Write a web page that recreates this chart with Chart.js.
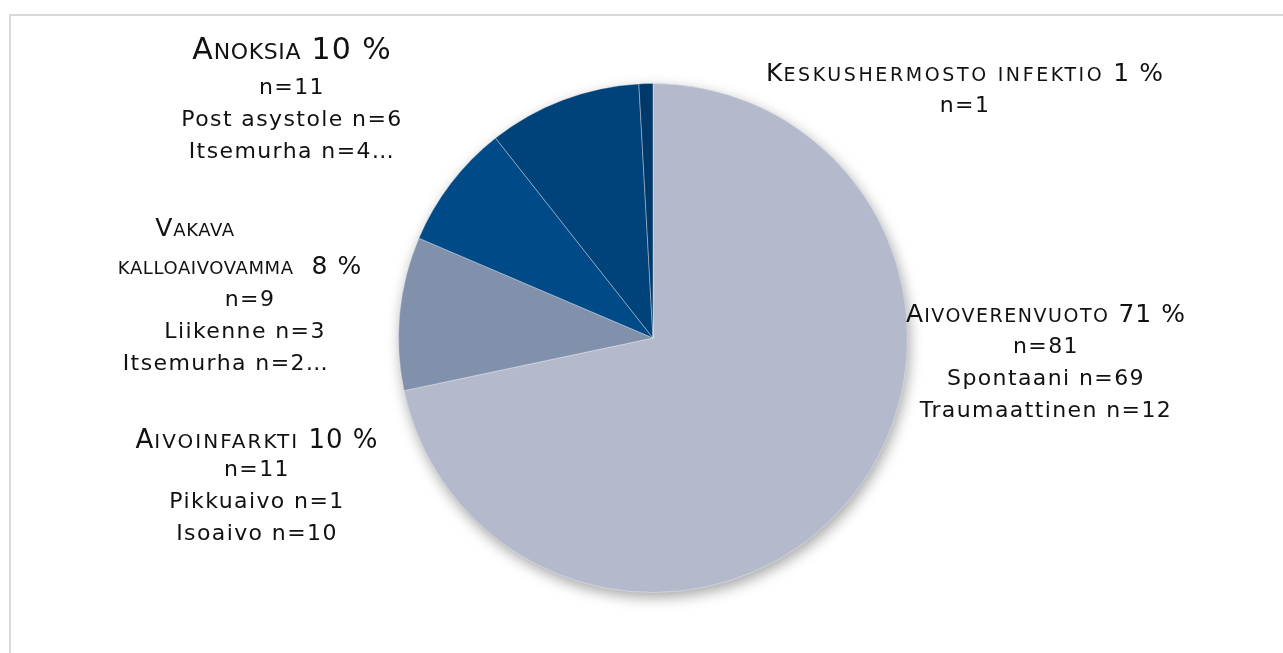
<!DOCTYPE html>
<html>
<head>
<meta charset="utf-8">
<script src="https://cdn.jsdelivr.net/npm/chart.js@4"></script>
<style>
  html, body { margin: 0; padding: 0; background: #ffffff; }
  #wrap { width: 1283px; height: 653px; position: relative; }
</style>
</head>
<body>
<div id="wrap"><canvas id="pieChart"></canvas></div>
<script>
// Aivokuolleet luovuttajat, syyt
const categories = ["Aivoverenvuoto", "Aivoinfarkti", "Vakava kalloaivovamma", "Anoksia", "Keskushermosto infektio"];
const counts = [81, 11, 9, 11, 1];
const percents = [71, 10, 8, 10, 1];
const titleLines = [
  ["Aivoverenvuoto 71 %"],
  ["Aivoinfarkti 10 %"],
  ["Vakava", "kalloaivovamma  8 %"],
  ["Anoksia 10 %"],
  ["Keskushermosto infektio 1 %"],
];
const details = [
  ["Spontaani n=69", "Traumaattinen n=12"],
  ["Pikkuaivo n=1", "Isoaivo n=10"],
  ["Liikenne n=3", "Itsemurha n=2…"],
  ["Post asystole n=6", "Itsemurha n=4…"],
  [],
];
const colors = ["#b4bacb", "#8190ab", "#004a87", "#00427a", "#00386a"];

// label paikat (suhteessa piirakan keskipisteeseen)
const labelLayout = [
  { dx: 393, dy: -16, gaps: [31, 32, 32], big: 25, small: 19, sp: 1.5 },
  { dx: -396, dy: 110, gaps: [28, 32, 32], big: 26, small: 20, sp: 2 },
  { dx: -413, dy: -102, gaps: [38, 32, 32, 32], big: 25, small: 18, sp: 0.6, lineDx: [-45, 0, 10, 5, -14] },
  { dx: -361, dy: -279, gaps: [35, 32, 32], big: 30, small: 22, sp: 0.6 },
  { dx: 312, dy: -257, gaps: [31], big: 25, small: 19, sp: 2.6 },
];

const FONT = '"DejaVu Sans", sans-serif';
const BODY = 22;
const BODY_SP = 1.4;

// otsikko pienillä kapiteeleilla: eka kirjain iso, muut kirjaimet pieninä versaaleina
function titleRuns(text, firstBig) {
  const runs = [];
  for (let i = 0; i < text.length; i++) {
    const ch = text[i];
    const isLetter = /[A-Za-zÄÖÅäöå]/.test(ch);
    const small = isLetter && !(i === 0 && firstBig);
    const last = runs[runs.length - 1];
    if (last && last.small === small) last.text += small ? ch.toUpperCase() : ch;
    else runs.push({ text: small ? ch.toUpperCase() : ch, small });
  }
  return runs;
}

const labelPlugin = {
  id: "sliceLabels",
  beforeDraw(chart) {
    const ctx = chart.ctx;
    ctx.save();
    ctx.strokeStyle = "#d9d9d9";
    ctx.lineWidth = 2;
    ctx.strokeRect(10, 15, 3000, 3000);
    ctx.restore();
  },
  beforeDatasetsDraw(chart) {
    const arc = chart.getDatasetMeta(0).data[0];
    if (!arc) return;
    const ctx = chart.ctx;
    ctx.save();
    ctx.shadowColor = "rgba(0,0,0,0.35)";
    ctx.shadowBlur = 14;
    ctx.shadowOffsetX = 2;
    ctx.shadowOffsetY = 5;
    ctx.fillStyle = colors[0];
    ctx.beginPath();
    ctx.arc(arc.x, arc.y, arc.outerRadius, 0, Math.PI * 2);
    ctx.fill();
    ctx.restore();
  },
  afterDatasetsDraw(chart) {
    const ctx = chart.ctx;
    const meta = chart.getDatasetMeta(0);
    const cx = meta.data[0].x;
    const cy = meta.data[0].y;
    ctx.save();
    ctx.fillStyle = "#111111";
    ctx.textBaseline = "alphabetic";
    categories.forEach((cat, i) => {
      const lay = labelLayout[i];
      const lines = [];
      titleLines[i].forEach((t, j) => lines.push({ runs: titleRuns(t, j === 0), title: true }));
      lines.push({ runs: [{ text: "n=" + counts[i], small: false }], title: false });
      details[i].forEach((d) => lines.push({ runs: [{ text: d, small: false }], title: false }));

      let y = cy + lay.dy;
      lines.forEach((line, k) => {
        if (k > 0) y += lay.gaps[k - 1] || 32;
        const setFont = (r) => {
          ctx.font = (line.title ? (r.small ? lay.small : lay.big) : BODY) + "px " + FONT;
          ctx.letterSpacing = (line.title ? (r.small ? lay.sp : 1) : BODY_SP) + "px";
        };
        let w = 0;
        line.runs.forEach((r) => {
          setFont(r);
          w += ctx.measureText(r.text).width;
        });
        let x = cx + lay.dx + ((lay.lineDx && lay.lineDx[k]) || 0) - w / 2;
        line.runs.forEach((r) => {
          setFont(r);
          ctx.fillText(r.text, x, y);
          x += ctx.measureText(r.text).width;
        });
      });
    });
    ctx.restore();
  },
};

document.addEventListener("DOMContentLoaded", () => {
  const ctx = document.getElementById("pieChart").getContext("2d");
  new Chart(ctx, {
    type: "pie",
    data: {
      labels: categories,
      datasets: [
        {
          data: counts,
          backgroundColor: colors,
          borderColor: "rgba(255, 255, 255, 0.35)",
          borderWidth: 1,
        },
      ],
    },
    options: {
      responsive: true,
      maintainAspectRatio: false,
      animation: false,
      layout: { padding: { top: 83, bottom: 60, left: 23, right: 0 } },
      plugins: {
        legend: { display: false },
        tooltip: { enabled: false },
      },
    },
    plugins: [labelPlugin],
  });
});
</script>
</body>
</html>
